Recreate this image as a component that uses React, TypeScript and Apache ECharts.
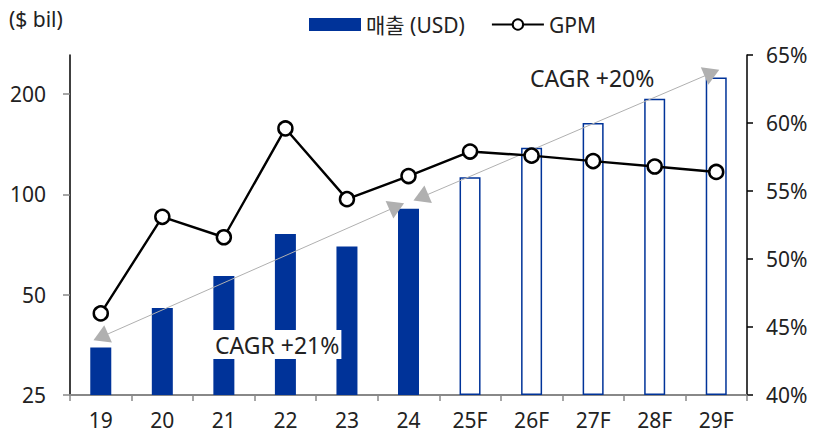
import React, { useEffect, useRef } from "react";
import * as echarts from "echarts";

const categories = ["19", "20", "21", "22", "23", "24", "25F", "26F", "27F", "28F", "29F"];
const revenue = [34.7, 45.6, 56.9, 76.0, 69.7, 90.5, 112.6, 138.1, 163.7, 193.6, 224.2];
const forecastFrom = 6;
const gpm = [46.0, 53.1, 51.6, 59.6, 54.4, 56.1, 57.9, 57.6, 57.2, 56.8, 56.4];
const leftTicks = [25, 50, 100, 200];
const leftMax = 262;
const rightMin = 40;
const rightMax = 65;
// arrow ends: [category, offset within band (fraction), value in $ bil]
const cagrPast = { label: "CAGR +21%", from: ["19", 0, 37.3], to: ["24", -0.19, 92.0] };
const cagrFcst = { label: "CAGR +20%", from: ["24", 0.2, 97.9], to: ["29F", -0.07, 231.7] };

const BASE = 25;
const toLog = (v: number) => Math.log2(v / BASE);

const BLUE = "#003399";
const FONT = "'Noto Sans', 'Noto Sans CJK KR', sans-serif";
const FS = 21;

export default function App() {
  const ref = useRef<HTMLDivElement>(null);
  useEffect(() => {
    if (!ref.current) return;
    const chart = echarts.init(ref.current, undefined, { renderer: "svg" });
    const barData = revenue.map((v, i) =>
      i < forecastFrom
        ? { value: toLog(v), itemStyle: { color: BLUE } }
        : { value: toLog(v), itemStyle: { color: "#ffffff", borderColor: BLUE, borderWidth: 1.5 } }
    );
    chart.setOption({
      animation: false,
      textStyle: { fontFamily: FONT },
      grid: { left: 70, right: 75, top: 55, bottom: 39, containLabel: false },
      legend: {
        left: 304,
        top: 9,
        itemWidth: 52,
        itemHeight: 13,
        itemGap: 26,
        textStyle: { fontSize: FS, color: "#222", fontFamily: FONT },
        data: [
          { name: "매출 (USD)", icon: "rect", itemStyle: { color: BLUE } },
          { name: "GPM" },
        ],
      },
      xAxis: {
        type: "category",
        data: categories,
        boundaryGap: true,
        axisLine: { lineStyle: { color: "#888", width: 2 } },
        axisTick: { show: true, interval: 0, length: 6, lineStyle: { color: "#888", width: 1.5 } },
        axisLabel: { fontSize: FS, color: "#222", margin: 14, fontFamily: FONT },
      },
      yAxis: [
        {
          type: "value",
          min: 0,
          max: toLog(leftMax),
          interval: 1,
          splitLine: { show: false },
          axisLine: { show: true, lineStyle: { color: "#000", width: 1.5 } },
          axisTick: {
            show: true,
            length: 7,
            lineStyle: { color: "#888", width: 1.5 },
            customValues: leftTicks.map(toLog),
          },
          axisLabel: {
            fontSize: FS,
            color: "#222",
            margin: 24,
            fontFamily: FONT,
            customValues: leftTicks.map(toLog),
            formatter: (v: number) => String(Math.round(BASE * Math.pow(2, v))),
          },
        },
        {
          type: "value",
          min: rightMin,
          max: rightMax,
          interval: 5,
          position: "right",
          splitLine: { show: false },
          axisLine: { show: true, lineStyle: { color: "#000", width: 1.5 } },
          axisTick: { show: true, length: 6, lineStyle: { color: "#000", width: 1.5 } },
          axisLabel: {
            fontSize: FS,
            color: "#222",
            margin: 19,
            fontFamily: FONT,
            formatter: (v: number) => `${v}%`,
          },
        },
      ],
      series: [
        {
          name: "매출 (USD)",
          type: "bar",
          yAxisIndex: 0,
          barWidth: 21,
          data: barData,
          itemStyle: { color: BLUE },
        },
        {
          name: "GPM",
          type: "line",
          yAxisIndex: 1,
          data: gpm,
          z: 5,
          symbol: "circle",
          symbolSize: 14,
          lineStyle: { color: "#000", width: 2.4 },
          itemStyle: { color: "#fff", borderColor: "#000", borderWidth: 2.5 },
        },
      ],
      graphic: [
        {
          type: "text",
          left: 9,
          top: 8,
          style: { text: "($ bil)", fontSize: FS, fill: "#222", fontFamily: FONT },
        },
        {
          type: "text",
          left: 213,
          top: 330,
          z: 10,
          style: {
            text: cagrPast.label,
            fontSize: 23,
            fill: "#222",
            fontFamily: FONT,
            backgroundColor: "#fff",
            padding: [3, 2, 3, 2],
          },
        },
        {
          type: "text",
          left: 530,
          top: 66,
          z: 10,
          style: { text: cagrFcst.label, fontSize: 23, fill: "#222", fontFamily: FONT },
        },
      ],
    });

    // Arrow end points through the axes' scales
    const finder = { xAxisIndex: 0, yAxisIndex: 0 };
    const toPx = (end: any) => {
      const i = categories.indexOf(end[0]);
      const p0 = chart.convertToPixel(finder, [i, toLog(end[2])]) as number[];
      const p1 = chart.convertToPixel(finder, [i + 1, toLog(end[2])]) as number[];
      const band = p1[0] - p0[0];
      return { x: p0[0] + end[1] * band, y: p0[1] };
    };
    const arrow = (a: any) => [toPx(a.from), toPx(a.to)];
    chart.setOption({
      series: [
        {
          markLine: {
            silent: true,
            symbol: ["triangle", "triangle"],
            symbolSize: [19, 16],
            lineStyle: { color: "#b0b0b0", width: 1, type: "solid" },
            itemStyle: { color: "#b0b0b0" },
            label: { show: false },
            data: [arrow(cagrPast), arrow(cagrFcst)],
            z: 3,
          },
        },
      ],
    });
    return () => chart.dispose();
  }, []);
  return <div ref={ref} style={{ width: 822, height: 434, position: "absolute", left: 0, top: 0 }} />;
}
